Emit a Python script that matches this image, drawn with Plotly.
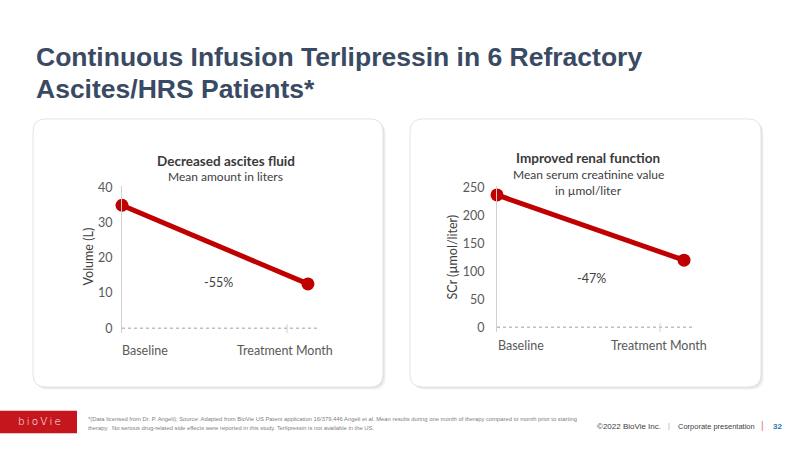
import plotly.graph_objects as go

# ---- data ----
categories = ["Baseline", "Treatment Month"]
ascites_volume = [35.0, 12.6]          # liters
creatinine = [237, 120]                # umol/liter
ascites_change = "-55%"
creat_change = "-47%"
ascites_ticks = [0, 10, 20, 30, 40]
creat_ticks = [0, 50, 100, 150, 200, 250]

W, H = 800, 449
def px(x): return x / W
def py(y): return 1 - y / H

RED = "#C00000"
TXT = "#404040"
FONT = "Lato"

fig = go.Figure()
xs = list(range(len(categories)))
fig.add_trace(go.Scatter(x=xs, y=ascites_volume, mode="lines+markers", cliponaxis=False,
                         line=dict(color=RED, width=5), marker=dict(color=RED, size=13),
                         xaxis="x", yaxis="y", hoverinfo="skip", showlegend=False))
fig.add_trace(go.Scatter(x=xs, y=creatinine, mode="lines+markers", cliponaxis=False,
                         line=dict(color=RED, width=5), marker=dict(color=RED, size=13),
                         xaxis="x2", yaxis="y2", hoverinfo="skip", showlegend=False))

shapes = []
def card(x0, y0, x1, y1, r=13):
    p = (f"M {px(x0+r)} {py(y0)} L {px(x1-r)} {py(y0)} Q {px(x1)} {py(y0)} {px(x1)} {py(y0+r)} "
         f"L {px(x1)} {py(y1-r)} Q {px(x1)} {py(y1)} {px(x1-r)} {py(y1)} "
         f"L {px(x0+r)} {py(y1)} Q {px(x0)} {py(y1)} {px(x0)} {py(y1-r)} "
         f"L {px(x0)} {py(y0+r)} Q {px(x0)} {py(y0)} {px(x0+r)} {py(y0)} Z")
    return p
def shift(x0, y0, x1, y1, d):
    return card(x0 + d, y0 + d, x1 + d, y1 + d)

for (x0, y0, x1, y1) in [(33, 115, 383, 388), (410, 115, 761, 388)]:
    for d, a in [(3, 0.03), (2, 0.04), (1, 0.05)]:
        shapes.append(dict(type="path", path=shift(x0, y0, x1, y1, d), xref="paper", yref="paper",
                           fillcolor=f"rgba(0,0,0,{a})", line=dict(width=0), layer="below"))
    shapes.append(dict(type="path", path=card(x0, y0, x1, y1), xref="paper", yref="paper",
                       fillcolor="white", line=dict(color="#E4E4E4", width=1), layer="below"))

# footer red box
shapes.append(dict(type="rect", xref="paper", yref="paper", x0=0, x1=px(77), y0=py(435), y1=py(412),
                   fillcolor="#C4161C", line=dict(width=0)))
# dotted zero lines (x axes)
shapes.append(dict(type="line", xref="x", yref="y", x0=0, x1=1.065, y0=0, y1=0, layer="below",
                   line=dict(color="#BFBFBF", width=1.5, dash="dot")))
shapes.append(dict(type="line", xref="x2", yref="y2", x0=0, x1=1.048, y0=0, y1=0, layer="below",
                   line=dict(color="#BFBFBF", width=1.5, dash="dot")))
# small category ticks
shapes.append(dict(type="line", xref="paper", yref="paper", x0=px(287), x1=px(287), y0=py(333), y1=py(324),
                   line=dict(color="#D0D0D0", width=1)))
shapes.append(dict(type="line", xref="paper", yref="paper", x0=px(660), x1=px(660), y0=py(332), y1=py(323),
                   line=dict(color="#D0D0D0", width=1)))

ann = []
def text(x, y, t, size, color=TXT, family=FONT, xanchor="center", angle=0, bold=False, weight=None):
    f = dict(size=size, color=color, family=family)
    if weight is not None:
        f["weight"] = weight
    ann.append(dict(x=px(x), y=py(y), xref="paper", yref="paper", text=(f"<b>{t}</b>" if bold else t),
                    showarrow=False, xanchor=xanchor, yanchor="middle", textangle=angle, font=f))

# title
TITLE_C = "#3A4A63"
text(34, 52, "Continuous Infusion Terlipressin in 6 Refractory", 26.5, TITLE_C, "Liberation Sans", "left", bold=True)
text(34, 84, "Ascites/HRS Patients*", 26.5, TITLE_C, "Liberation Sans", "left", bold=True)

# left panel texts
text(226, 158, "Decreased ascites fluid", 13.5, "#3A3A3A", bold=True)
text(226, 174, "Mean amount in liters", 12)
text(88, 255, "Volume (L)", 12.5, angle=-90)
text(218, 282, ascites_change, 12.5)
# right panel texts
text(588, 155, "Improved renal function", 13.5, "#3A3A3A", bold=True)
text(588, 172, "Mean serum creatinine value", 12)
text(588, 188, "in µmol/liter", 12)
text(452, 255, "SCr (µmol/liter)", 12.5, angle=-90)
text(591, 277, creat_change, 12.5)

# category labels
cat_left_px = [145, 285]
cat_right_px = [521, 659]
for c, xp in zip(categories, cat_left_px):
    text(xp, 351, c, 12.5, "#595959")
for c, xp in zip(categories, cat_right_px):
    text(xp, 346, c, 12.5, "#595959")

# footer
text(39, 423, "b\u2009i\u2009o\u2009V\u2009i\u2009e", 10.5, "white", "DejaVu Sans", weight=200)
text(86, 421, "*(Data licensed from Dr. P. Angeli); Source: Adapted from BioVie US Patent application 16/379,446 Angeli et al. Mean results during one month of therapy compared to month prior to starting",
     5.85, "#808080", "Liberation Sans", "left")
text(86, 430, "therapy.  No serious drug-related side effects were reported in this study. Terlipressin is not available in the US.",
     5.85, "#808080", "Liberation Sans", "left")
text(595, 428, "©2022 BioVie Inc.", 8, "#404040", "Liberation Sans", "left")
text(669, 428, "|", 7, "#A0A0A0", "Liberation Sans")
text(676, 428, "Corporate presentation", 7.5, "#404040", "Liberation Sans", "left")
text(762, 427, "|", 10, "#E07070", "Liberation Sans")
text(771, 428, "32", 8, "#2E75B6", "Liberation Sans", "left", bold=True)

axis_font = dict(family=FONT, size=12.5, color="#595959")
fig.update_layout(
    width=W, height=H, margin=dict(l=0, r=0, t=0, b=0),
    paper_bgcolor="white", plot_bgcolor="rgba(0,0,0,0)",
    shapes=shapes, annotations=ann,
    xaxis=dict(domain=[px(122), px(320)], range=[0, 1.065], showgrid=False, zeroline=False,
               showticklabels=False, showline=False, fixedrange=True),
    yaxis=dict(domain=[py(333), py(183)], range=[-1.4, 40.56], tickvals=ascites_ticks,
               showgrid=False, zeroline=False, showline=True, linecolor="#D0D0D0", linewidth=1,
               ticks="", tickfont=axis_font, ticklabelstandoff=6),
    xaxis2=dict(domain=[px(497), px(693)], range=[0, 1.048], showgrid=False, zeroline=False,
                showticklabels=False, showline=False, anchor="y2"),
    yaxis2=dict(domain=[py(332), py(183)], range=[-8.8, 253.5], tickvals=creat_ticks, anchor="x2",
                showgrid=False, zeroline=False, showline=True, linecolor="#D0D0D0", linewidth=1,
                ticks="", tickfont=axis_font, ticklabelstandoff=9),
)
fig.write_html("out.html", config={"displayModeBar": False},
               post_script="document.body.style.margin='0';document.body.style.overflow='hidden';")
